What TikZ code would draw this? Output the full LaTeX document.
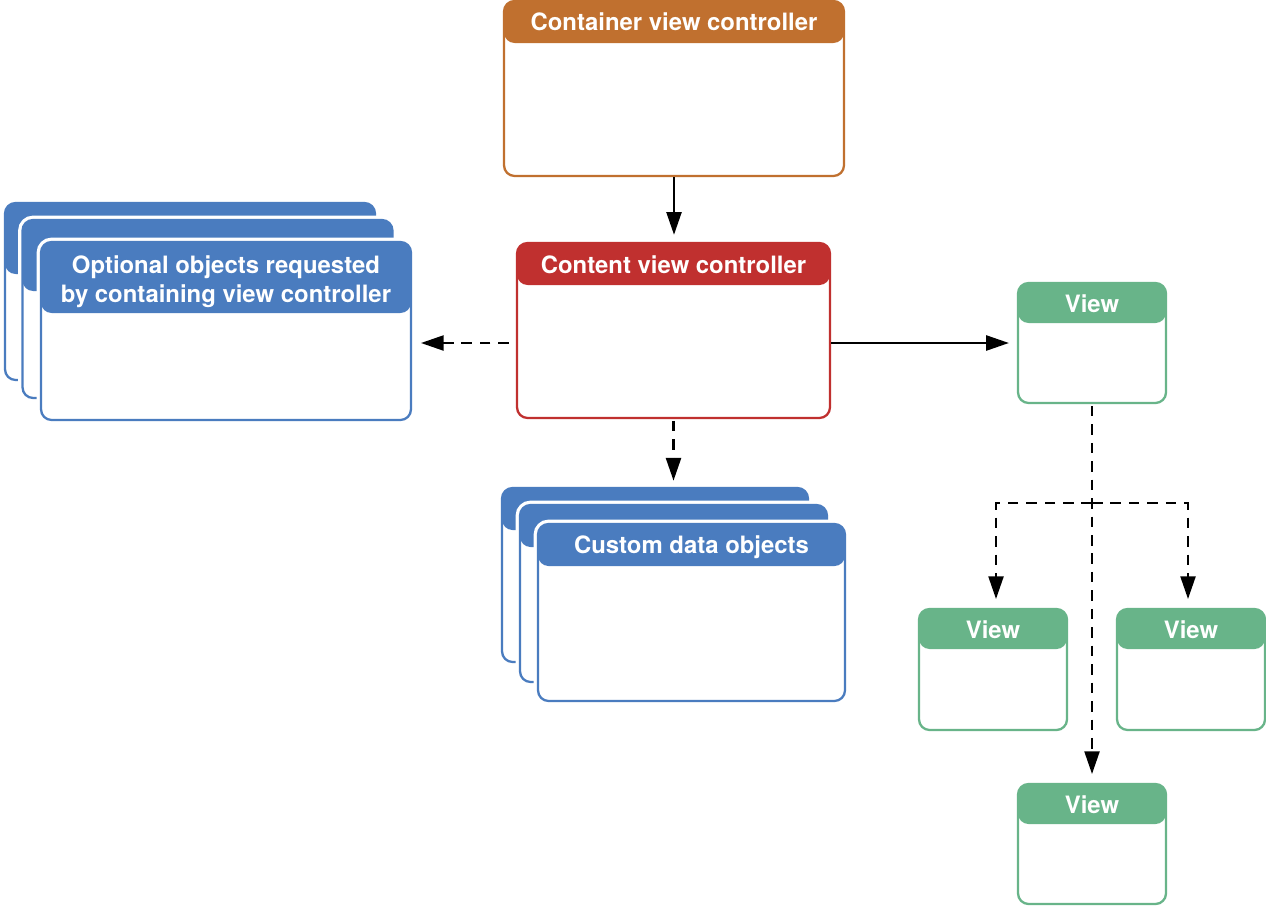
\documentclass[tikz,border=0pt]{standalone}
\usepackage{fontspec}
\setmainfont{TeX Gyre Heros}
\usepackage{xcolor}
\usetikzlibrary{positioning,arrows.meta,calc}

\definecolor{ctrorange}{HTML}{C0702F}
\definecolor{cntred}{HTML}{C0302F}
\definecolor{objblue}{HTML}{4A7CBF}
\definecolor{viewgreen}{HTML}{68B489}

\tikzset{
  card/.style 2 args={draw=#1, fill=white, line width=1.3pt, rounded corners=6pt, inner sep=0pt,
    preaction={draw=white, line width=5pt},
    path picture={\fill[#1] (path picture bounding box.north west) rectangle ([yshift=-#2]path picture bounding box.north east);}},
  title/.style={text=white, font=\bfseries\fontsize{13.6}{16.5}\selectfont, align=center, inner sep=0pt},
  conn/.style={line width=1.5pt, -{Triangle[length=13pt,width=8.5pt]}},
  dashconn/.style={conn, dash pattern=on 6pt off 4.5pt},
}

\begin{document}
\begin{tikzpicture}[x=0.02cm, y=-0.02cm]
\useasboundingbox (0,0) rectangle (1266,906);

% Container and content controllers
\node[card={ctrorange}{0.84cm}, minimum width=6.8cm, minimum height=3.5cm] (container) at (674,88.5) {};
\node[title] (containertitle) at (674,22) {Container view controller};
\node[card={cntred}{0.84cm}, minimum width=6.26cm, minimum height=3.5cm] (content) at (673.5,330.5) {};
\node[title] (contenttitle) at (673.5,265) {Content view controller};

% Optional objects (stack)
\node[card={objblue}{1.42cm}, minimum width=7.4cm, minimum height=3.54cm] (optback) at (190,291.5) {};
\node[card={objblue}{1.42cm}, minimum width=7.4cm, minimum height=3.56cm] (optmid) at (207.5,309) {};
\node[card={objblue}{1.42cm}, minimum width=7.4cm, minimum height=3.56cm] (optfront) at (226,331) {};
\node[title] (opttitle) at (226,281.5) {Optional objects requested\\by containing view controller};

% Custom data objects (stack)
\node[card={objblue}{0.84cm}, minimum width=6.12cm, minimum height=3.48cm] (custback) at (655,575) {};
\node[card={objblue}{0.84cm}, minimum width=6.14cm, minimum height=3.54cm] (custmid) at (673.5,593.5) {};
\node[card={objblue}{0.84cm}, minimum width=6.14cm, minimum height=3.54cm] (custfront) at (691.5,612.5) {};
\node[title] (custtitle) at (691.5,547.5) {Custom data objects};

% Views
\node[card={viewgreen}{0.8cm}, minimum width=2.96cm, minimum height=2.4cm] (viewtop) at (1092,343) {};
\node[title] (viewtoptitle) at (1092,304) {View};
\node[card={viewgreen}{0.8cm}, minimum width=2.96cm, minimum height=2.42cm] (viewleft) at (993,669.5) {};
\node[title] (viewlefttitle) at (993,630) {View};
\node[card={viewgreen}{0.8cm}, minimum width=2.96cm, minimum height=2.42cm] (viewright) at (1191,669.5) {};
\node[title] (viewrighttitle) at (1191,630) {View};
\node[card={viewgreen}{0.8cm}, minimum width=2.96cm, minimum height=2.4cm] (viewbot) at (1092,844) {};
\node[title] (viewbottitle) at (1092,805) {View};

% Connectors
\draw[conn, shorten >=4pt] (container.south) -- (container.south |- content.north);
\draw[conn, shorten >=4.5pt] (content.east |- viewtop.west) -- (viewtop.west);
\draw[dashconn, shorten <=4pt, shorten >=5pt] (content.west |- viewtop.west) -- (optfront.east |- viewtop.west);
\draw[dashconn, shorten <=1pt, shorten >=3.5pt] (content.south) -- (content.south |- custback.north);

\coordinate (branch) at (1092,503);
\draw[dashconn, shorten <=1pt, shorten >=5pt] (viewtop.south) -- (viewbot.north);
\draw[dashconn, shorten >=5pt] (branch) -| ([xshift=0.06cm]viewleft.north);
\draw[dashconn, shorten >=5pt] (branch) -| ([xshift=-0.06cm]viewright.north);
\end{tikzpicture}
\end{document}
